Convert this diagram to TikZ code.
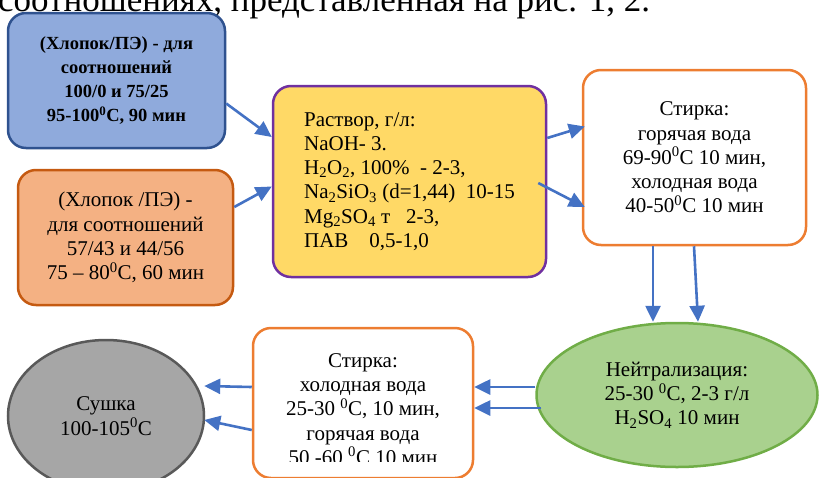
\documentclass[tikz,border=0pt]{standalone}
\usepackage{fontspec}
\setmainfont{Liberation Serif}
\usetikzlibrary{shapes.geometric, arrows.meta, calc}
\definecolor{cBlue}{RGB}{143,170,220}
\definecolor{cBlueLine}{RGB}{47,82,143}
\definecolor{cPeach}{RGB}{244,177,131}
\definecolor{cPeachLine}{RGB}{197,90,17}
\definecolor{cYellow}{RGB}{255,217,102}
\definecolor{cPurple}{RGB}{112,48,160}
\definecolor{cOrange}{RGB}{237,125,49}
\definecolor{cGreen}{RGB}{169,209,142}
\definecolor{cGreenLine}{RGB}{112,173,71}
\definecolor{cGray}{RGB}{166,166,166}
\definecolor{cGrayLine}{RGB}{89,89,89}
\definecolor{cArrow}{RGB}{68,114,196}
\tikzset{
	box/.style ={rectangle, rounded corners=18pt, line width=2.5pt, align=center, inner sep=0pt},
	oval/.style={ellipse, line width=2.5pt, align=center, inner sep=0pt},
	% connectors
	flow/.style={-{Triangle[length=16pt,width=15pt]}, draw=cArrow, line width=2.6pt},
}

\begin{document}
\begin{tikzpicture}[x=1pt, y=-1pt, font=\fontsize{21}{24.3}\selectfont]
	\clip (0,0) rectangle (819,477);
	% line of running text cut at the top
	\node[anchor=base west, inner sep=0pt, font=\fontsize{35}{40}\selectfont] (caption) at (-2,11)
		{соотношениях, представленная на рис. 1, 2.};
	% inputs
	\node[box, draw=cBlueLine, fill=cBlue, minimum width=217pt, minimum height=135pt,
		font=\fontsize{18.5}{24}\selectfont\bfseries] (blend1) at (116.5,80.5)
		{(Хлопок/ПЭ) - для\\соотношений\\100/0 и 75/25\\95-100\textsuperscript{0}С, 90 мин};
	\node[box, draw=cPeachLine, fill=cPeach, minimum width=215pt, minimum height=135pt] (blend2) at (125.5,237.5)
		{(Хлопок /ПЭ) -\\для соотношений\\57/43 и 44/56\\75 – 80\textsuperscript{0}С, 60 мин};
	% bath
	\node[box, draw=cPurple, fill=cYellow, minimum width=273pt, minimum height=191pt, align=left] (bath) at (409.5,181.5)
		{Раствор, г/л:\\NaOH- 3.\\H\textsubscript{2}O\textsubscript{2}, 100\%\ \ - 2-3,\\Na\textsubscript{2}SiO\textsubscript{3} (d=1,44)\ \ 10-15\\Mg\textsubscript{2}SO\textsubscript{4} т\ \ \ 2-3,\\ПАВ\ \ \ \ 0,5-1,0};
	\node[box, draw=cOrange, fill=white, minimum width=223pt, minimum height=175pt] (wash1) at (694.5,157.5)
		{Стирка:\\горячая вода\\69-90\textsuperscript{0}С 10 мин,\\холодная вода\\40-50\textsuperscript{0}С 10 мин};
	\node[oval, draw=cGreenLine, fill=cGreen, minimum width=281pt, minimum height=144pt] (neutr) at (677,395)
		{Нейтрализация:\\25-30 \textsuperscript{0}С, 2-3 г/л\\H\textsubscript{2}SO\textsubscript{4} 10 мин};
	\node[box, draw=cOrange, fill=white, minimum width=220pt, minimum height=150pt] (wash2) at (363,403) {};
	\begin{scope}
		\clip (253,328) rectangle (473,461);
		\node[align=center, inner sep=0pt, anchor=north] (wash2text) at (363,353)
			{Стирка:\\холодная вода\\25-30 \textsuperscript{0}С, 10 мин,\\горячая вода\\50 -60 \textsuperscript{0}С 10 мин};
	\end{scope}
	\node[oval, draw=cGrayLine, fill=cGray, minimum width=196pt, minimum height=152pt] (dry) at (106,416)
		{Сушка\\100-105\textsuperscript{0}С};
	% arrows
	\draw[flow] ([yshift=-23pt]blend1.east) -- ([yshift=44.5pt]bath.west);
	\draw[flow] ([yshift=30.5pt]blend2.east) -- ([yshift=-5pt]bath.west);
	\draw[flow] ([yshift=43.5pt]bath.east) -- ([xshift=3pt,yshift=31pt]wash1.west);
	\draw[flow] ([xshift=-9pt,yshift=-1.5pt]bath.east) -- ([xshift=3pt,yshift=-49.5pt]wash1.west);
	\draw[flow] ([xshift=-41.5pt]wash1.south) -- ([xshift=-24pt]neutr.north);
	\draw[flow] ([xshift=-0.5pt]wash1.south) -- ([xshift=21pt]neutr.north);
	\draw[flow] ([yshift=8pt]neutr.west) -- ([yshift=16pt]wash2.east);
	\draw[flow] ([xshift=6pt,yshift=-13pt]neutr.west) -- ([yshift=-5pt]wash2.east);
	\draw[flow] ([yshift=16pt]wash2.west) -- ([xshift=-1pt,yshift=30pt]dry.east);
	\draw[flow] ([yshift=-27pt]wash2.west) -- ([xshift=-1pt,yshift=-4pt]dry.east);
\end{tikzpicture}
\end{document}
